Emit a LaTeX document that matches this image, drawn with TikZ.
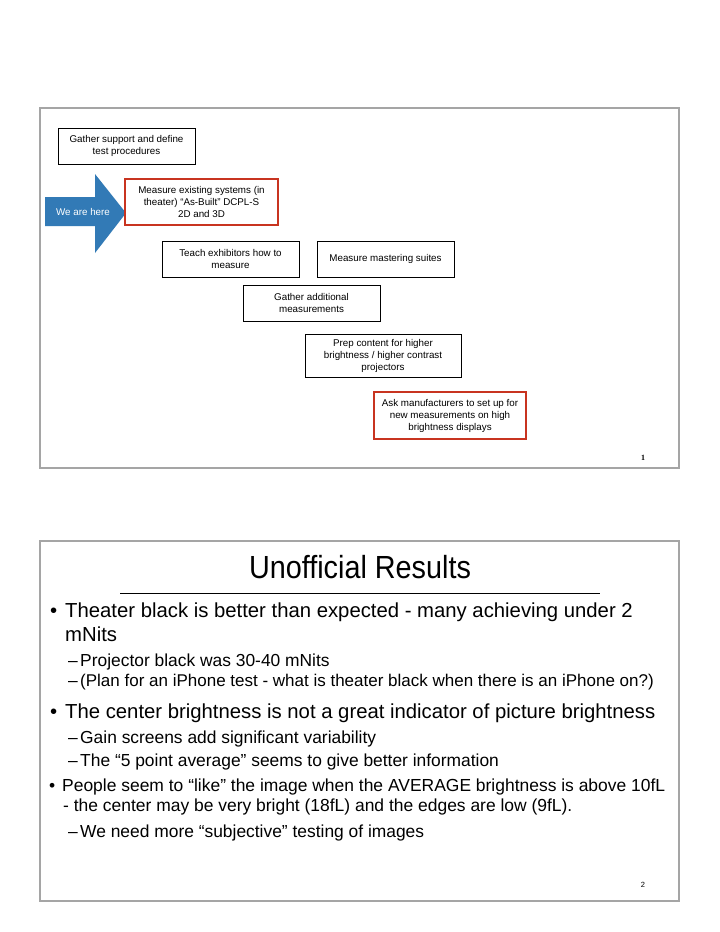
\documentclass[tikz,border=0pt]{standalone}
\usepackage{fontspec}
\setmainfont{Liberation Sans}
\newfontfamily\titlefont[FakeStretch=0.9]{Liberation Sans}
\newfontfamily\numfont{Liberation Serif}
\usepackage{xcolor}

\definecolor{framegray}{RGB}{165,165,165}
\definecolor{markred}{RGB}{200,52,32}
\definecolor{hereblue}{RGB}{50,122,182}

\begin{document}
\begin{tikzpicture}[x=1bp, y=-1bp,
    stepbox/.style={draw, fill=white, line width=0.8bp, align=center, inner sep=0pt,
        font=\fontsize{9.8bp}{12bp}\selectfont},
    nowbox/.style={stepbox, draw=markred, line width=2.4bp},
    frame/.style={draw=framegray, line width=1.4bp},
    big/.style={anchor=base west, inner sep=0pt, font=\fontsize{20.3bp}{24bp}\selectfont},
    sub/.style={anchor=base west, inner sep=0pt, font=\fontsize{17.4bp}{20bp}\selectfont},
    mid/.style={anchor=base west, inner sep=0pt, font=\fontsize{17.45bp}{20bp}\selectfont}]
    \fill[white] (0,0) rectangle (720,932);
    \useasboundingbox (0,0) rectangle (720,932);

    % slide 1: the steps
    \draw[frame] (40,108) rectangle (679,468);
    \fill[hereblue] (45,197) -- (95,197) -- (95,174) -- (126,213) -- (95,253) -- (95,226) -- (45,226) -- cycle;
    \node[text=white, font=\fontsize{9.8bp}{12bp}\selectfont] (here) at (83,212) {We are here};
    \node[stepbox, minimum width=137bp, minimum height=36bp] (support) at (126.5,146) {Gather support and define\\test procedures};
    \node[nowbox, minimum width=153bp, minimum height=46bp] (existing) at (201.5,202) {Measure existing systems (in\\theater) “As-Built” DCPL-S\\2D and 3D};
    \node[stepbox, minimum width=137bp, minimum height=36bp] (teach) at (230.5,259) {Teach exhibitors how to\\measure};
    \node[stepbox, minimum width=137bp, minimum height=36bp] (mastering) at (385.5,259) {Measure mastering suites};
    \node[stepbox, minimum width=137bp, minimum height=36bp] (additional) at (311.5,303) {Gather additional\\measurements};
    \node[stepbox, minimum width=156bp, minimum height=43bp] (prep) at (383,355.5) {Prep content for higher\\brightness / higher contrast\\projectors};
    \node[nowbox, minimum width=152bp, minimum height=47bp] (ask) at (450,415.5) {Ask manufacturers to set up for\\new measurements on high\\brightness displays};
    \node[font=\numfont\bfseries\fontsize{8bp}{9bp}\selectfont] (page1) at (643,458) {1};

    % slide 2: results
    \draw[frame] (40,541) rectangle (679,901);
    \node[anchor=base, inner sep=0pt, font=\titlefont\fontsize{32bp}{36bp}\selectfont] (title) at (360,578) {Unofficial Results};
    \draw[line width=1bp] (120,593) -- (600,593);
    \node[big] (dot1) at (50,617.7) {•};
    \node[big] (black) at (65,617.7) {Theater black is better than expected - many achieving under 2};
    \node[big] (black2) at (65,641.7) {mNits};
    \node[sub] (dash1) at (68,666.7) {–};
    \node[sub] (projector) at (80,666.7) {Projector black was 30-40 mNits};
    \node[sub] (dash2) at (68,686) {–};
    \node[sub, font=\fontsize{17bp}{20bp}\selectfont] (iphone) at (80,686) {(Plan for an iPhone test - what is theater black when there is an iPhone on?)};
    \node[big] (dot2) at (50,718.3) {•};
    \node[big] (center) at (65,718.3) {The center brightness is not a great indicator of picture brightness};
    \node[sub] (dash3) at (68,743.3) {–};
    \node[sub] (gain) at (80,743.3) {Gain screens add significant variability};
    \node[sub] (dash4) at (68,766.7) {–};
    \node[sub] (average) at (80,766.7) {The “5 point average” seems to give better information};
    \node[mid] (dot3) at (49,791.7) {•};
    \node[mid] (people) at (62,791.7) {People seem to “like” the image when the AVERAGE brightness is above 10fL};
    \node[mid] (people2) at (63,811.7) {- the center may be very bright (18fL) and the edges are low (9fL).};
    \node[sub] (dash5) at (68,837.3) {–};
    \node[sub] (subjective) at (80,837.3) {We need more “subjective” testing of images};
    \node[font=\fontsize{7.5bp}{8bp}\selectfont] (page2) at (643,885) {2};
\end{tikzpicture}
\end{document}
